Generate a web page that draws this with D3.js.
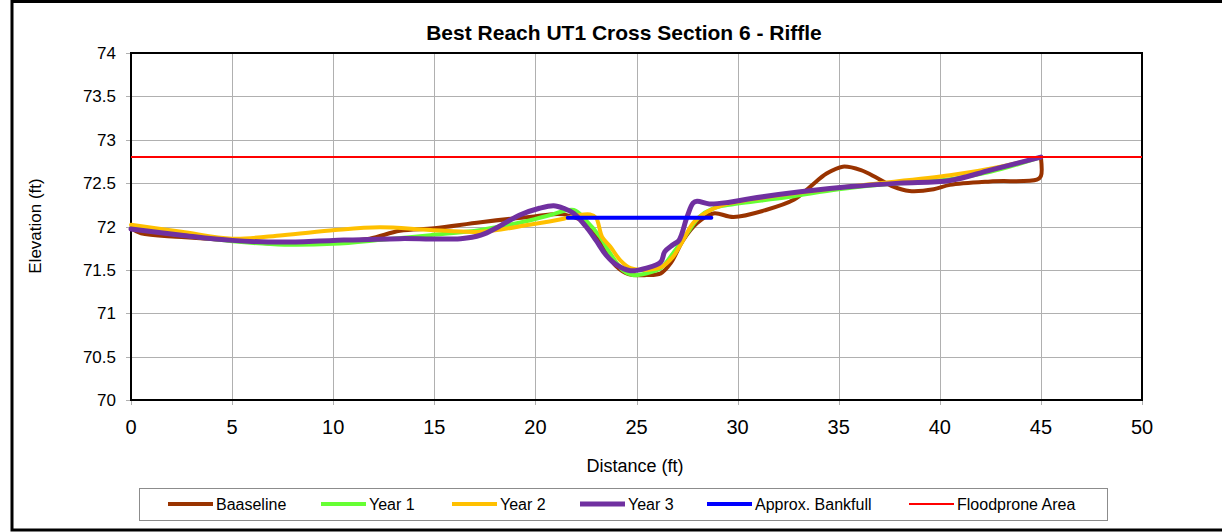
<!DOCTYPE html>
<html>
<head>
<meta charset="utf-8">
<script src="https://cdn.jsdelivr.net/npm/d3@7"></script>
<style>
  body { margin: 0; background: #fff; }
  text { font-family: "Liberation Sans", Arial, sans-serif; fill: #000; }
</style>
</head>
<body>
<svg id="chart" width="1222" height="532"></svg>
<script>
"use strict";

// tick values
const xTicks = [0, 5, 10, 15, 20, 25, 30, 35, 40, 45, 50];
const yTicks = [70, 70.5, 71, 71.5, 72, 72.5, 73, 73.5, 74];

// survey data [distance, elevation]
const baseline = [[0,71.98],[0.5,71.92],[2.5,71.88],[5,71.84],[7.5,71.8],[10,71.82],[11.8,71.86],[13.3,71.95],
  [15,71.98],[17.3,72.05],[19.7,72.11],[21.4,72.14],[22.7,72.0],[23.3,71.77],[24,71.54],[24.6,71.45],
  [25.5,71.44],[26.2,71.46],[26.7,71.58],[27.3,71.84],[28,72.04],[28.8,72.15],[29.8,72.11],[31.4,72.19],
  [32.8,72.31],[33.6,72.46],[34.4,72.61],[35.2,72.69],[36.1,72.65],[36.9,72.56],[37.7,72.46],[38.5,72.41],
  [39.7,72.43],[40.5,72.48],[42.5,72.52],[44.8,72.54],[45,72.58],[45,72.8]];
const year1 = [[0,71.98],[2.5,71.9],[5,71.83],[7.6,71.79],[10,71.8],[12.5,71.85],[14.8,71.9],[17.3,71.96],
  [19.7,72.07],[20.7,72.13],[21.9,72.19],[22.5,72.07],[23.2,71.88],[23.7,71.69],[24.3,71.5],[24.8,71.44],
  [25.5,71.46],[26.2,71.52],[26.8,71.69],[27.5,71.92],[28.1,72.11],[28.8,72.21],[29.6,72.25],[32.5,72.34],
  [35,72.43],[37.5,72.49],[40,72.53],[42.5,72.63],[45,72.8]];
const year2 = [[0,72.02],[2.5,71.94],[5,71.86],[7.5,71.9],[10.1,71.96],[12.3,71.99],[14.8,71.96],[17.3,71.94],
  [19.7,72.02],[21.4,72.09],[22.1,72.13],[22.7,72.14],[23.0,72.1],[23.3,71.88],[23.7,71.77],[24.2,71.61],
  [24.7,71.52],[25.2,71.5],[26.2,71.53],[26.8,71.65],[27.3,71.84],[27.8,72.04],[28.5,72.17],[29.3,72.25],
  [30.6,72.31],[35.5,72.46],[40.5,72.59],[43,72.69],[45,72.8]];
const year3 = [[0,71.97],[2.5,71.9],[5,71.84],[7.5,71.82],[10,71.84],[13.3,71.86],[16.3,71.86],[17.3,71.9],
  [18.2,72.0],[19.2,72.13],[20.2,72.21],[20.9,72.24],[21.4,72.21],[21.9,72.15],[22.5,72.0],[23.0,71.84],
  [23.5,71.67],[24.0,71.56],[24.7,71.49],[25.5,71.52],[26.2,71.59],[26.4,71.71],[26.8,71.79],[27.1,71.84],
  [27.5,72.11],[27.8,72.27],[28.0,72.29],[28.6,72.26],[29.6,72.28],[30.6,72.32],[33.1,72.4],[35.6,72.46],
  [38,72.5],[40.5,72.53],[42.5,72.65],[45,72.8]];
const bankfull = [[21.6,72.1],[28.7,72.1]];
const floodprone = [[0,72.8],[50,72.8]];

const seriesNames = ["Baaseline", "Year 1", "Year 2", "Year 3", "Approx. Bankfull", "Floodprone Area"];
const seriesData = [baseline, year1, year2, year3, bankfull, floodprone];
const seriesColors = ["#993300", "#66ff33", "#ffc000", "#7030a0", "#0000ff", "#ff0000"];
const seriesWidths = [4, 4, 4, 5, 4, 2];
const legendX = [168, 321, 452, 580, 707, 909]; // start of each legend sample

const plot = { left: 131, right: 1142, top: 53, bottom: 400 };

const svg = d3.select("#chart");

// outer frame
svg.append("rect").attr("x", 12).attr("y", 1.5).attr("width", 1300).attr("height", 528.5)
  .attr("fill", "#fff").attr("stroke", "#000").attr("stroke-width", 3);

const x = d3.scaleLinear().domain([0, 50]).range([plot.left, plot.right]);
const y = d3.scaleLinear().domain([70, 74]).range([plot.bottom, plot.top]);

// gridlines
svg.append("g").selectAll("line").data(xTicks).enter().append("line")
  .attr("x1", d => Math.round(x(d)) + 0.5).attr("x2", d => Math.round(x(d)) + 0.5)
  .attr("y1", plot.top).attr("y2", plot.bottom + 5)
  .attr("stroke", "#b0b0b0").attr("stroke-width", 1);
svg.append("g").selectAll("line").data(yTicks).enter().append("line")
  .attr("x1", plot.left - 5).attr("x2", plot.right)
  .attr("y1", d => Math.round(y(d)) + 0.5).attr("y2", d => Math.round(y(d)) + 0.5)
  .attr("stroke", "#b0b0b0").attr("stroke-width", 1);

// tick labels
svg.append("g").selectAll("text").data(yTicks).enter().append("text")
  .attr("x", 116).attr("y", d => y(d) + 6)
  .attr("text-anchor", "end").style("font-size", "17px")
  .text(d => d);
svg.append("g").selectAll("text").data(xTicks).enter().append("text")
  .attr("x", d => x(d)).attr("y", 434)
  .attr("text-anchor", "middle").style("font-size", "20px")
  .text(d => d);

// plot border
svg.append("rect").attr("x", plot.left).attr("y", plot.top)
  .attr("width", plot.right - plot.left).attr("height", plot.bottom - plot.top)
  .attr("fill", "none").attr("stroke", "#000").attr("stroke-width", 2);

// series lines
const line = d3.line().x(d => x(d[0])).y(d => y(d[1])).curve(d3.curveCatmullRom.alpha(0.5));
seriesData.forEach((pts, i) => {
  svg.append("path").datum(pts)
    .attr("d", line)
    .attr("fill", "none")
    .attr("stroke", seriesColors[i])
    .attr("stroke-width", seriesWidths[i])
    .attr("stroke-linejoin", "round")
    .attr("stroke-linecap", i === 5 ? "butt" : "round");
});

// titles
svg.append("text").attr("x", 624).attr("y", 40).attr("text-anchor", "middle")
  .style("font-size", "21px").style("font-weight", "bold")
  .text("Best Reach UT1 Cross Section 6 - Riffle");
svg.append("text").attr("x", 635).attr("y", 472).attr("text-anchor", "middle")
  .style("font-size", "18px").text("Distance (ft)");
svg.append("text").attr("transform", "translate(41,226) rotate(-90)").attr("text-anchor", "middle")
  .style("font-size", "17px").text("Elevation (ft)");

// legend
svg.append("rect").attr("x", 139.5).attr("y", 488.5).attr("width", 968).attr("height", 32)
  .attr("fill", "#fff").attr("stroke", "#8c8c8c").attr("stroke-width", 1);
const leg = svg.append("g").selectAll("g").data(seriesNames).enter().append("g");
leg.append("line")
  .attr("x1", (d, i) => legendX[i]).attr("x2", (d, i) => legendX[i] + 45)
  .attr("y1", 504).attr("y2", 504)
  .attr("stroke", (d, i) => seriesColors[i])
  .attr("stroke-width", (d, i) => seriesWidths[i]);
leg.append("text")
  .attr("x", (d, i) => legendX[i] + 48).attr("y", 510)
  .style("font-size", "16px")
  .text(d => d);
</script>
</body>
</html>
